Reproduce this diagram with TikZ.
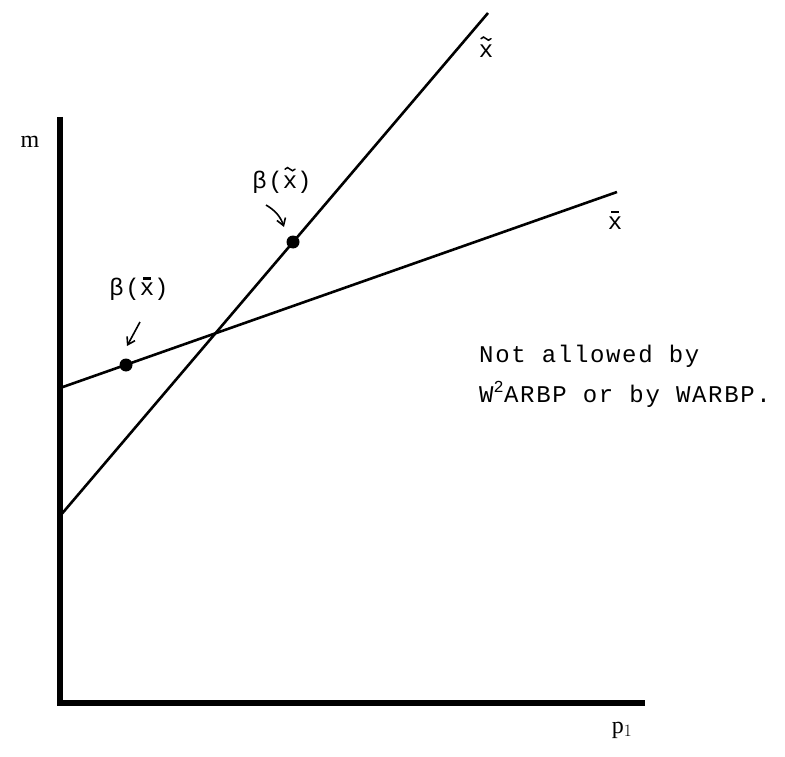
\documentclass[tikz,border=0pt]{standalone}
\usepackage{fontspec}
\setmainfont{Liberation Serif}
\newfontfamily\tw[LetterSpace=7]{Liberation Mono}
\usetikzlibrary{arrows.meta}
\tikzset{
  axis/.style={line width=6.5pt, line cap=butt, line join=miter},
  curve/.style={line width=2.6pt},
  pt/.style={circle, fill=black, inner sep=0pt, minimum size=13pt},
  lab/.style={font=\tw\fontsize{24}{26}\selectfont, inner sep=0pt},
  axlab/.style={font=\fontsize{24}{26}\selectfont, inner sep=0pt},
  ptr/.style={line width=1.6pt, -{Straight Barb[length=7pt,width=9pt]}}
}
\newcommand\tilmark{\tikz[baseline=0pt,x=1pt,y=1pt]\draw[line width=1.5pt,line cap=round] (0,0) sin (2.5,1.6) cos (5,0) sin (7.5,-1.6) cos (10,0);}
\newcommand\xbarr{\vbox{\offinterlineskip\halign{\hfil##\hfil\cr\rule{0.3em}{2.6pt}\cr\noalign{\kern3pt}x\cr}}}
\newcommand\xtil{\vbox{\offinterlineskip\halign{\hfil##\hfil\cr\tilmark\cr\noalign{\kern4pt}x\cr}}}
\begin{document}
\begin{tikzpicture}[x=1pt,y=-1pt]
\useasboundingbox (0,0) rectangle (785,757);
% axes
\coordinate (top) at (60,117);
\coordinate (org) at (60,703);
\coordinate (right) at (645,703);
\draw[axis] (top) -- (org) -- (right);
\node[axlab] (m) at (30,142) {m};
\node[axlab] (p) at (622,730) {p$_1$};
% lines
\coordinate (A) at (60,388);
\coordinate (B) at (617,192);
\coordinate (C) at (60,516);
\coordinate (D) at (488,13);
\draw[curve] (A) -- (B);
\draw[curve] (C) -- (D);
\node[lab] (lb) at (615,220) {\xbarr};
\node[lab] (lt) at (486,47) {\xtil};
% points
\node[pt] (p1) at (126,365) {};
\node[pt] (p2) at (293,242) {};
\node[lab] (b1) at (139,289) {β(\xbarr)};
\node[lab] (b2) at (282,180) {β(\xtil)};
\coordinate (a1s) at (140,322);
\coordinate (a1e) at (127,346);
\draw[ptr] (a1s) -- (a1e);
\coordinate (a2s) at (266,205);
\coordinate (a2e) at (284,227);
\draw[ptr] (a2s) to[bend left=20] (a2e);
% text
\node[lab, anchor=base west] (t1) at (479,362) {Not allowed by};
\node[lab, anchor=base west] (t2) at (479,402) {W\textsuperscript{2}ARBP or by WARBP.};
\end{tikzpicture}
\end{document}
